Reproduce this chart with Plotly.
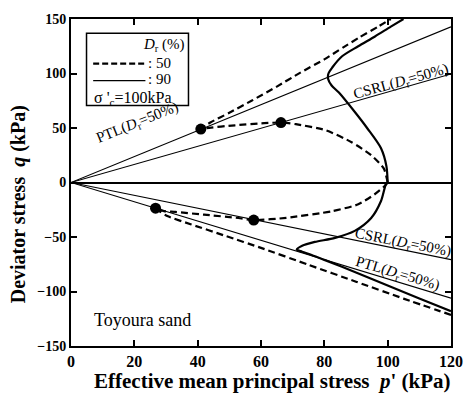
import plotly.graph_objects as go

# Stress paths, Toyoura sand, sigma'c = 100 kPa
# Dr = 50 % (dashed) -- compression side
p50_comp = [100, 98.8, 94.8, 88.6, 80.4, 71, 66.3, 61, 51.8, 42.6, 41,
            44, 50, 57, 65, 72.3, 80, 86, 91, 97, 101]
q50_comp = [0, 12.7, 25, 37, 48, 53.5, 55, 54.4, 52.5, 49.9, 49,
            55, 64, 75, 88, 100.6, 113, 124, 133, 143, 150]
# Dr = 50 % (dashed) -- extension side
p50_ext = [100, 98.9, 95.8, 90.7, 82.5, 68, 57.7, 52.8, 42, 33, 29.4, 26.7,
           28, 30.4, 38, 48.8, 60, 75, 90, 105, 120]
q50_ext = [0, -3.6, -11, -20, -26.3, -32.4, -34.5, -32.6, -29.5, -27, -26.3, -23.6,
           -26.5, -30.8, -38.5, -49, -60, -75.5, -91, -106.5, -121.5]

# Dr = 90 % (solid) -- compression side
p90_comp = [100, 99.6, 97.9, 93.5, 89.7, 84.6, 82.3, 81.2, 81.3, 82.5, 85.6,
            90.7, 96, 101, 105]
q90_comp = [0, 15, 31.4, 50, 64.4, 82.5, 89, 95, 100, 105.5, 115.8,
            125, 134, 143, 150]
# Dr = 90 % (solid) -- extension side
p90_ext = [100, 99.4, 97.9, 94.8, 89.6, 83.4, 77, 73, 71.3, 73, 76,
           80, 90, 100, 110, 120]
q90_ext = [0, -2, -17, -32.6, -44.4, -50.8, -54.5, -58, -61.5, -63.5, -66.5,
           -71, -82.5, -94.5, -106.5, -118]

# Phase transformation / critical stress ratio points (Dr = 50 %)
pt_p = [41, 66.3, 26.7, 57.7]
pt_q = [49, 55, -23.6, -34.5]

# Lines through the origin: slopes q/p
line_names = ["PTL_comp", "CSRL_comp", "CSRL_ext", "PTL_ext"]
line_slopes = [1.19, 0.83, -0.59, -0.884]
p_range = [0, 120]

SERIF = "Liberation Serif"
BLACK = "black"

fig = go.Figure()

for name, k in zip(line_names, line_slopes):
    fig.add_trace(go.Scatter(x=p_range, y=[k * p for p in p_range], mode="lines",
                             line=dict(color=BLACK, width=1.1), name=name,
                             showlegend=False, hoverinfo="skip"))

for px_, qy_ in [(p50_comp, q50_comp), (p50_ext, q50_ext)]:
    fig.add_trace(go.Scatter(x=px_, y=qy_, mode="lines", showlegend=False,
                             line=dict(color=BLACK, width=2.2, dash="7px,4px",
                                       shape="spline", smoothing=0.6)))

for px_, qy_ in [(p90_comp, q90_comp), (p90_ext, q90_ext)]:
    fig.add_trace(go.Scatter(x=px_, y=qy_, mode="lines", showlegend=False,
                             line=dict(color=BLACK, width=2.2,
                                       shape="spline", smoothing=0.8)))

fig.add_trace(go.Scatter(x=pt_p, y=pt_q, mode="markers", showlegend=False,
                         marker=dict(color=BLACK, size=11)))

# line labels
lab = dict(font=dict(family=SERIF, size=15, color=BLACK), showarrow=False,
           xref="x", yref="y")
dr = "<i>D</i><sub>r</sub>=50%"
fig.add_annotation(x=21, y=54.5, text="PTL(" + dr + ")", textangle=-22, **lab)
fig.add_annotation(x=104.3, y=92.5, text="CSRL(" + dr + ")", textangle=-15.5, **lab)
fig.add_annotation(x=104.8, y=-55.5, text="CSRL(" + dr + ")", textangle=11, **lab)
fig.add_annotation(x=103.2, y=-84, text="PTL(" + dr + ")", textangle=16.5, **lab)
fig.add_annotation(x=22.5, y=-126, text="Toyoura sand",
                   font=dict(family=SERIF, size=18, color=BLACK), showarrow=False)

# legend box
fig.add_shape(type="rect", xref="x", yref="y", x0=4.9, x1=37.1, y0=70.7, y1=137,
              line=dict(color=BLACK, width=1.5), fillcolor="white", layer="above")
fig.add_shape(type="line", xref="x", yref="y", x0=7, x1=23.5, y0=109, y1=109,
              line=dict(color=BLACK, width=2.2, dash="6px,3px"), layer="above")
fig.add_shape(type="line", xref="x", yref="y", x0=7, x1=23.5, y0=93.5, y1=93.5,
              line=dict(color=BLACK, width=1.3), layer="above")
leg = dict(font=dict(family=SERIF, size=15, color=BLACK), showarrow=False,
           xref="x", yref="y")
fig.add_annotation(x=36.6, y=126.5, text="<i>D</i><sub>r</sub> (%)", xanchor="right", **leg)
fig.add_annotation(x=23.8, y=110, text=": 50", xanchor="left", **leg)
fig.add_annotation(x=23.8, y=94.5, text=": 90", xanchor="left", **leg)
fig.add_annotation(x=6.6, y=77.5, text="σ '<sub>c</sub>=100kPa", xanchor="left",
                   font=dict(family=SERIF, size=16, color=BLACK), showarrow=False,
                   xref="x", yref="y")

# axis titles as annotations
fig.add_annotation(xref="paper", yref="paper", x=-0.138, y=0.432,
                   text="Deviator stress  <i>q</i> (kPa)", textangle=-90,
                   showarrow=False, xanchor="center", yanchor="middle",
                   font=dict(family=SERIF, size=20, color=BLACK, weight="bold"))
fig.add_annotation(xref="paper", yref="paper", x=0.53, y=-0.106,
                   text="Effective mean principal stress  <i>p</i>' (kPa)",
                   showarrow=False, xanchor="center", yanchor="middle",
                   font=dict(family=SERIF, size=21, color=BLACK, weight="bold"))

axis_common = dict(showline=True, linecolor=BLACK, linewidth=2, mirror="ticks",
                   ticks="inside", ticklen=6, tickwidth=1.5, tickcolor=BLACK,
                   showgrid=False)

fig.update_xaxes(range=[0, 120], dtick=20, zeroline=False,
                 tickfont=dict(family=SERIF, size=16, color=BLACK, weight="bold"),
                 **axis_common)
fig.update_yaxes(range=[-150, 150], dtick=50, zeroline=True, zerolinecolor=BLACK,
                 zerolinewidth=2,
                 tickfont=dict(family=SERIF, size=14, color=BLACK, weight="bold"),
                 **axis_common)

fig.update_layout(width=475, height=400, margin=dict(l=71, r=13, t=15, b=54),
                  paper_bgcolor="white", plot_bgcolor="white", showlegend=False)

fig.write_html("out.html")
